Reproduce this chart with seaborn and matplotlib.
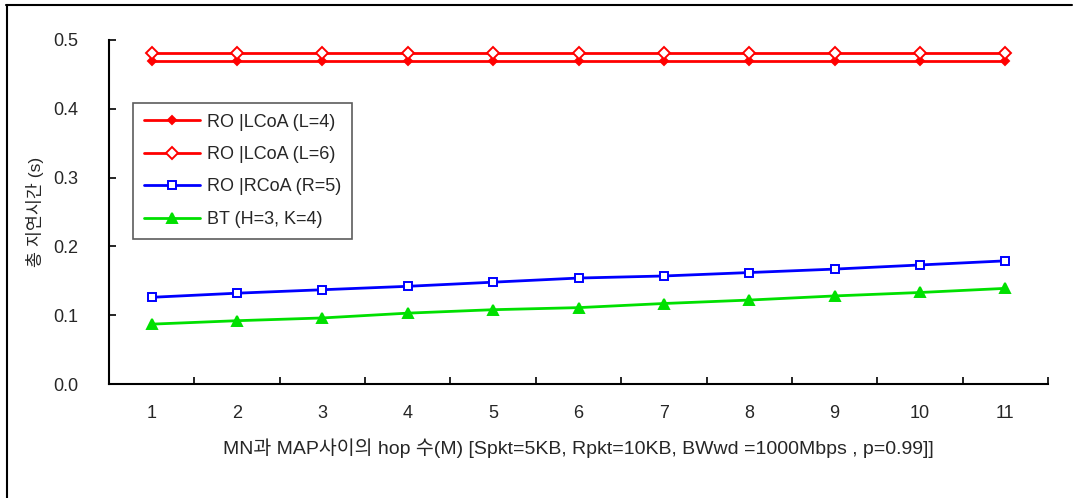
import matplotlib
matplotlib.use("Agg")
import matplotlib.pyplot as plt
import seaborn as sns
import pandas as pd
from matplotlib.lines import Line2D

hops = [1, 2, 3, 4, 5, 6, 7, 8, 9, 10, 11]
ro_lcoa_l4 = [0.470] * 11
ro_lcoa_l6 = [0.481] * 11
ro_rcoa_r5 = [0.126, 0.132, 0.137, 0.142, 0.148, 0.154, 0.157, 0.162, 0.167, 0.173, 0.179]
bt_h3_k4 = [0.087, 0.092, 0.096, 0.103, 0.108, 0.111, 0.117, 0.122, 0.128, 0.133, 0.139]
series_names = ["RO |LCoA (L=4)", "RO |LCoA (L=6)", "RO |RCoA (R=5)", "BT (H=3, K=4)"]
y_ticks = [0.0, 0.1, 0.2, 0.3, 0.4, 0.5]

sns.set_theme(style="white")
plt.rcParams['font.family'] = ['Liberation Sans', 'Noto Sans CJK KR', 'DejaVu Sans']

fig = plt.figure(figsize=(10.83, 4.98), dpi=100)
ax = fig.add_axes([109/1083, 1-384/498, (1048-109)/1083, (384-40)/498])

styles = [
    dict(color="#ff0000", marker="D", mfc="#ff0000", mec="#ff0000", ms=4.5),
    dict(color="#ff0000", marker="D", mfc="white", mec="#ff0000", ms=6.5),
    dict(color="#0000ff", marker="s", mfc="white", mec="#0000ff", ms=5.5),
    dict(color="#00e000", marker="^", mfc="#00e000", mec="#00e000", ms=7),
]
values = [ro_lcoa_l4, ro_lcoa_l6, ro_rcoa_r5, bt_h3_k4]
for name, vals, st in zip(series_names, values, styles):
    df = pd.DataFrame({"hop": hops, "delay": vals})
    sns.lineplot(data=df, x="hop", y="delay", ax=ax, label=name,
                 color=st["color"], marker=st["marker"], markersize=st["ms"],
                 markerfacecolor=st["mfc"], markeredgecolor=st["mec"],
                 markeredgewidth=1.4, linewidth=2)

ax.set_xlim(0.5, 11.5)
ax.set_ylim(0, 0.5)
ax.set_xticks(hops)
ax.set_xticklabels([str(h) for h in hops], fontsize=13)
ax.set_xticks([h + 0.5 for h in hops], minor=True)
ax.tick_params(axis="x", which="major", length=0, pad=15)
ax.tick_params(axis="x", which="minor", direction="in", length=5, width=1.2, color="black", bottom=True)
ax.set_yticks(y_ticks)
ax.set_yticklabels([f"{v:.1f}" for v in y_ticks], fontsize=13)
ax.tick_params(axis="y", direction="in", length=5, width=1.2, color="black", left=True, pad=22)

for s in ["top", "right"]:
    ax.spines[s].set_visible(False)
for s in ["left", "bottom"]:
    ax.spines[s].set_color("black")
    ax.spines[s].set_linewidth(1.5)

ax.set_xlabel("MN과 MAP사이의 hop 수(M) [Spkt=5KB, Rpkt=10KB, BWwd =1000Mbps , p=0.99]]",
              fontsize=14, labelpad=12)
ax.set_ylabel("총 지연시간 (s)", fontsize=12.5, labelpad=7)

leg = ax.legend(loc="upper left", bbox_to_anchor=(0.026, 0.817), fontsize=13,
                frameon=True, fancybox=False, edgecolor="#333333", handlelength=3.1,
                borderpad=0.6, labelspacing=0.85, handletextpad=0.35, borderaxespad=0)
leg.get_frame().set_linewidth(1.2)

fig.add_artist(Line2D([6/1083, 1072/1083], [1-5.5/498, 1-5.5/498], color="black", lw=1.5, transform=fig.transFigure))
fig.add_artist(Line2D([6.5/1083, 6.5/1083], [1-5.5/498, 0], color="black", lw=1.5, transform=fig.transFigure))

fig.savefig("out.png", dpi=100)
